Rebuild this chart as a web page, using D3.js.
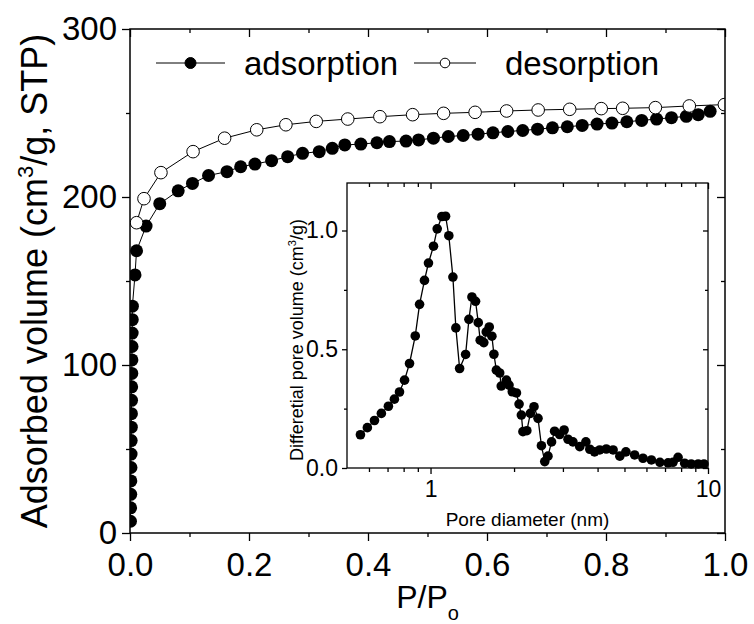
<!DOCTYPE html>
<html>
<head>
<meta charset="utf-8">
<script src="https://cdn.jsdelivr.net/npm/d3@7"></script>
<style>
  body { margin: 0; background: #fff; }
  svg text { font-family: "Liberation Sans", Arial, sans-serif; fill: #000; }
</style>
</head>
<body>
<div id="chart"></div>
<script>
// ---- data ----
// main isotherm
const adsP = [0.0008, 0.001, 0.0012, 0.0014, 0.0016, 0.0018, 0.002, 0.0022, 0.0024, 0.0026,
  0.0028, 0.003, 0.0032, 0.0034, 0.0036, 0.0038, 0.004, 0.0084, 0.011, 0.027,
  0.050, 0.081, 0.105, 0.132, 0.163, 0.186, 0.210, 0.238, 0.265, 0.290,
  0.318, 0.340, 0.361, 0.388, 0.415, 0.436, 0.464, 0.485, 0.51, 0.535,
  0.56, 0.585, 0.61, 0.635, 0.66, 0.685, 0.71, 0.735, 0.76, 0.785,
  0.81, 0.835, 0.86, 0.885, 0.91, 0.935, 0.955, 0.975]
const adsV = [7, 15, 23, 31, 39, 47, 55, 63, 71, 79,
  87, 95, 103, 111, 119, 127, 135, 153.6, 168, 182.7,
  196, 203.7, 208.1, 212.8, 215.1, 218, 219.6, 221.6, 224, 226,
  227, 229, 231, 231.5, 232.3, 233, 233.3, 234, 235, 236,
  236.6, 237.4, 238.2, 239, 239.6, 240.4, 241.2, 241.8, 242.6, 243.4,
  244, 244.8, 245.6, 246.4, 247.2, 248, 249, 251]
const desP = [0.011, 0.0235, 0.052, 0.106, 0.159, 0.213, 0.262, 0.313, 0.366, 0.420,
  0.475, 0.527, 0.580, 0.633, 0.686, 0.739, 0.792, 0.828, 0.883, 0.940, 0.999]
const desV = [184.7, 199, 214.5, 227, 235, 240, 243, 245, 246.4, 247.8,
  249, 249.8, 250.4, 251.2, 251.8, 252.2, 252.6, 252.8, 253.2, 254.2, 255]

// inset pore size distribution
const poreD = [0.559, 0.592, 0.628, 0.665, 0.705, 0.741, 0.773, 0.806,
  0.840, 0.881, 0.913, 0.951, 0.983, 1.025, 1.057, 1.099, 1.133, 1.164, 1.204, 1.234,
  1.273, 1.338, 1.375, 1.410, 1.453, 1.486, 1.510, 1.556, 1.588, 1.628, 1.664, 1.692, 1.727,
  1.775, 1.798, 1.877, 1.918, 1.971, 2.04, 2.085, 2.125, 2.153, 2.224, 2.29, 2.36, 2.44,
  2.51, 2.58, 2.65, 2.73, 2.80, 2.92, 3.03, 3.13, 3.26, 3.45, 3.63, 3.75, 3.90, 4.07,
  4.30, 4.55, 4.81, 5.06, 5.44, 5.83, 6.25, 6.71, 7.18, 7.48, 7.80, 8.24, 8.70, 9.22, 9.67]
const poreV = [0.14, 0.17, 0.20, 0.23, 0.26, 0.29, 0.32, 0.37,
  0.44, 0.556, 0.689, 0.790, 0.863, 0.934, 1.007, 1.059, 1.060, 0.978, 0.804, 0.590,
  0.419, 0.478, 0.626, 0.720, 0.702, 0.612, 0.538, 0.528, 0.573, 0.594, 0.555, 0.479, 0.412,
  0.40, 0.345, 0.37, 0.349, 0.321, 0.316, 0.269, 0.223, 0.153, 0.157, 0.230, 0.258, 0.209,
  0.094, 0.027, 0.05, 0.11, 0.155, 0.141, 0.160, 0.121, 0.11, 0.09, 0.11, 0.079, 0.068, 0.076,
  0.08, 0.076, 0.05, 0.068, 0.055, 0.041, 0.034, 0.024, 0.022, 0.024, 0.045, 0.02, 0.017, 0.017, 0.017]

// ticks
const mainXTicks = [0, 0.2, 0.4, 0.6, 0.8, 1.0]
const mainXMinor = [0.1, 0.3, 0.5, 0.7, 0.9]
const mainYTicks = [0, 100, 200, 300]
const mainYMinor = [50, 150, 250]
const insetXTicks = [1, 10]
const insetXMinor = [0.6, 0.7, 0.8, 0.9, 2, 3, 4, 5, 6, 7, 8, 9]
const insetYTicks = [0, 0.5, 1.0]
const insetYMinor = [0.25, 0.75]

const width = 754, height = 624
const main = { left: 130, right: 725, top: 29, bottom: 533 }
const inset = { left: 347, right: 708, top: 183, bottom: 468 }

const svg = d3.select('#chart').append('svg')
  .attr('width', width)
  .attr('height', height)

// scales
const x = d3.scaleLinear().domain([0, 1]).range([main.left, main.right])
const y = d3.scaleLinear().domain([0, 300]).range([main.bottom, main.top])
const xi = d3.scaleLog().domain([0.5, 10]).range([inset.left, inset.right])
const yi = d3.scaleLinear().domain([0, 1.2]).range([inset.bottom, inset.top])

// draws one set of ticks (major + minor) on a side
function drawAxis (axisFn, scale, major, minor, pos, opt) {
  const g = svg.append('g').attr('transform', pos)
  g.append('g')
    .call(axisFn(scale).tickValues(minor).tickSize(opt.minor).tickFormat(''))
  const a = g.append('g')
    .call(axisFn(scale).tickValues(major).tickSize(opt.major)
      .tickPadding(opt.pad || 3).tickFormat(opt.fmt || ''))
  g.selectAll('.domain').remove()
  g.selectAll('line').attr('stroke', '#000').attr('stroke-width', 1.3)
  a.selectAll('text').style('font-size', opt.fs + 'px')
  return a
}

// ---- main plot ----
const clip = svg.append('clipPath').attr('id', 'clipMain')
clip.append('rect')
  .attr('x', main.left).attr('y', main.top)
  .attr('width', main.right - main.left).attr('height', main.bottom - main.top)

const line = d3.line().x(d => x(d[0])).y(d => y(d[1]))
const ads = adsP.map((p, i) => [p, adsV[i]])
const des = desP.map((p, i) => [p, desV[i]])

const plot = svg.append('g').attr('clip-path', 'url(#clipMain)')
plot.append('path').attr('d', line(des))
  .attr('fill', 'none').attr('stroke', '#000').attr('stroke-width', 1)
plot.append('path').attr('d', line(ads))
  .attr('fill', 'none').attr('stroke', '#000').attr('stroke-width', 1)
plot.selectAll('.ads').data(ads).enter().append('circle')
  .attr('cx', d => x(d[0])).attr('cy', d => y(d[1])).attr('r', 6.5)
  .attr('fill', '#000')
plot.selectAll('.des').data(des).enter().append('circle')
  .attr('cx', d => x(d[0])).attr('cy', d => y(d[1])).attr('r', 6.3)
  .attr('fill', '#fff').attr('stroke', '#000').attr('stroke-width', 1)

// axes: outward on left/bottom, inward on top/right
drawAxis(d3.axisBottom, x, mainXTicks, mainXMinor, `translate(0,${main.bottom})`,
  { major: 8, minor: 4, pad: 12, fs: 33, fmt: d3.format('.1f') })
drawAxis(d3.axisTop, x, mainXTicks, mainXMinor, `translate(0,${main.top})`,
  { major: -8, minor: -4 })
drawAxis(d3.axisLeft, y, mainYTicks, mainYMinor, `translate(${main.left},0)`,
  { major: 8, minor: 4, pad: 5, fs: 33, fmt: d3.format('d') })
drawAxis(d3.axisRight, y, mainYTicks, mainYMinor, `translate(${main.right},0)`,
  { major: -8, minor: -4 })
svg.append('rect')
  .attr('x', main.left).attr('y', main.top)
  .attr('width', main.right - main.left).attr('height', main.bottom - main.top)
  .attr('fill', 'none').attr('stroke', '#000').attr('stroke-width', 1.5)

// axis titles
const xt = svg.append('text')
  .attr('x', (main.left + main.right) / 2).attr('y', 608)
  .attr('text-anchor', 'middle').style('font-size', '32px')
xt.append('tspan').text('P/P')
xt.append('tspan').attr('dy', 12).style('font-size', '20px').text('o')

const yt = svg.append('text')
  .attr('transform', `translate(47,${(main.top + main.bottom) / 2}) rotate(-90)`)
  .attr('text-anchor', 'middle').style('font-size', '36px')
yt.append('tspan').text('Adsorbed volume (cm')
yt.append('tspan').attr('dy', -14).style('font-size', '22px').text('3')
yt.append('tspan').attr('dy', 14).text('/g, STP)')

// legend
const legend = svg.append('g')
const legItems = [
  { x1: 156, x2: 225, label: 'adsorption', tx: 244, fill: '#000', r: 5.5 },
  { x1: 414, x2: 476, label: 'desorption', tx: 505, fill: '#fff', r: 4.8 }
]
legItems.forEach(it => {
  legend.append('line')
    .attr('x1', it.x1).attr('x2', it.x2).attr('y1', 63).attr('y2', 63)
    .attr('stroke', '#000').attr('stroke-width', 1)
  legend.append('circle')
    .attr('cx', (it.x1 + it.x2) / 2).attr('cy', 63).attr('r', it.r)
    .attr('fill', it.fill).attr('stroke', '#000').attr('stroke-width', 1)
  legend.append('text')
    .attr('x', it.tx).attr('y', 75).style('font-size', '33px').text(it.label)
})

// ---- inset ----
svg.append('rect')
  .attr('x', inset.left).attr('y', inset.top)
  .attr('width', inset.right - inset.left).attr('height', inset.bottom - inset.top)
  .attr('fill', '#fff')

const pore = poreD.map((d, i) => [d, poreV[i]])
const lineInset = d3.line().x(d => xi(d[0])).y(d => yi(d[1]))
svg.append('path').attr('d', lineInset(pore))
  .attr('fill', 'none').attr('stroke', '#000').attr('stroke-width', 1.3)
svg.append('g').selectAll('circle').data(pore).enter().append('circle')
  .attr('cx', d => xi(d[0])).attr('cy', d => yi(d[1])).attr('r', 4.8)
  .attr('fill', '#000')

drawAxis(d3.axisBottom, xi, insetXTicks, insetXMinor, `translate(0,${inset.bottom})`,
  { major: 6, minor: 4, pad: 7, fs: 23, fmt: d3.format('d') })
drawAxis(d3.axisTop, xi, insetXTicks, insetXMinor, `translate(0,${inset.top})`,
  { major: -6, minor: -4 })
drawAxis(d3.axisLeft, yi, insetYTicks, insetYMinor, `translate(${inset.left},0)`,
  { major: 5, minor: 3, pad: 4, fs: 23, fmt: d3.format('.1f') })
drawAxis(d3.axisRight, yi, insetYTicks, insetYMinor, `translate(${inset.right},0)`,
  { major: -5, minor: -3 })
svg.append('rect')
  .attr('x', inset.left).attr('y', inset.top)
  .attr('width', inset.right - inset.left).attr('height', inset.bottom - inset.top)
  .attr('fill', 'none').attr('stroke', '#000').attr('stroke-width', 1.3)

svg.append('text')
  .attr('x', (inset.left + inset.right) / 2).attr('y', 526)
  .attr('text-anchor', 'middle').style('font-size', '19px')
  .text('Pore diameter (nm)')

const yti = svg.append('text')
  .attr('transform', `translate(303,340) rotate(-90)`)
  .attr('text-anchor', 'middle').style('font-size', '18px')
yti.append('tspan').text('Differetial pore volume (cm')
yti.append('tspan').attr('dy', -7).style('font-size', '11px').text('3')
yti.append('tspan').attr('dy', 7).text('/g)')
</script>
</body>
</html>
